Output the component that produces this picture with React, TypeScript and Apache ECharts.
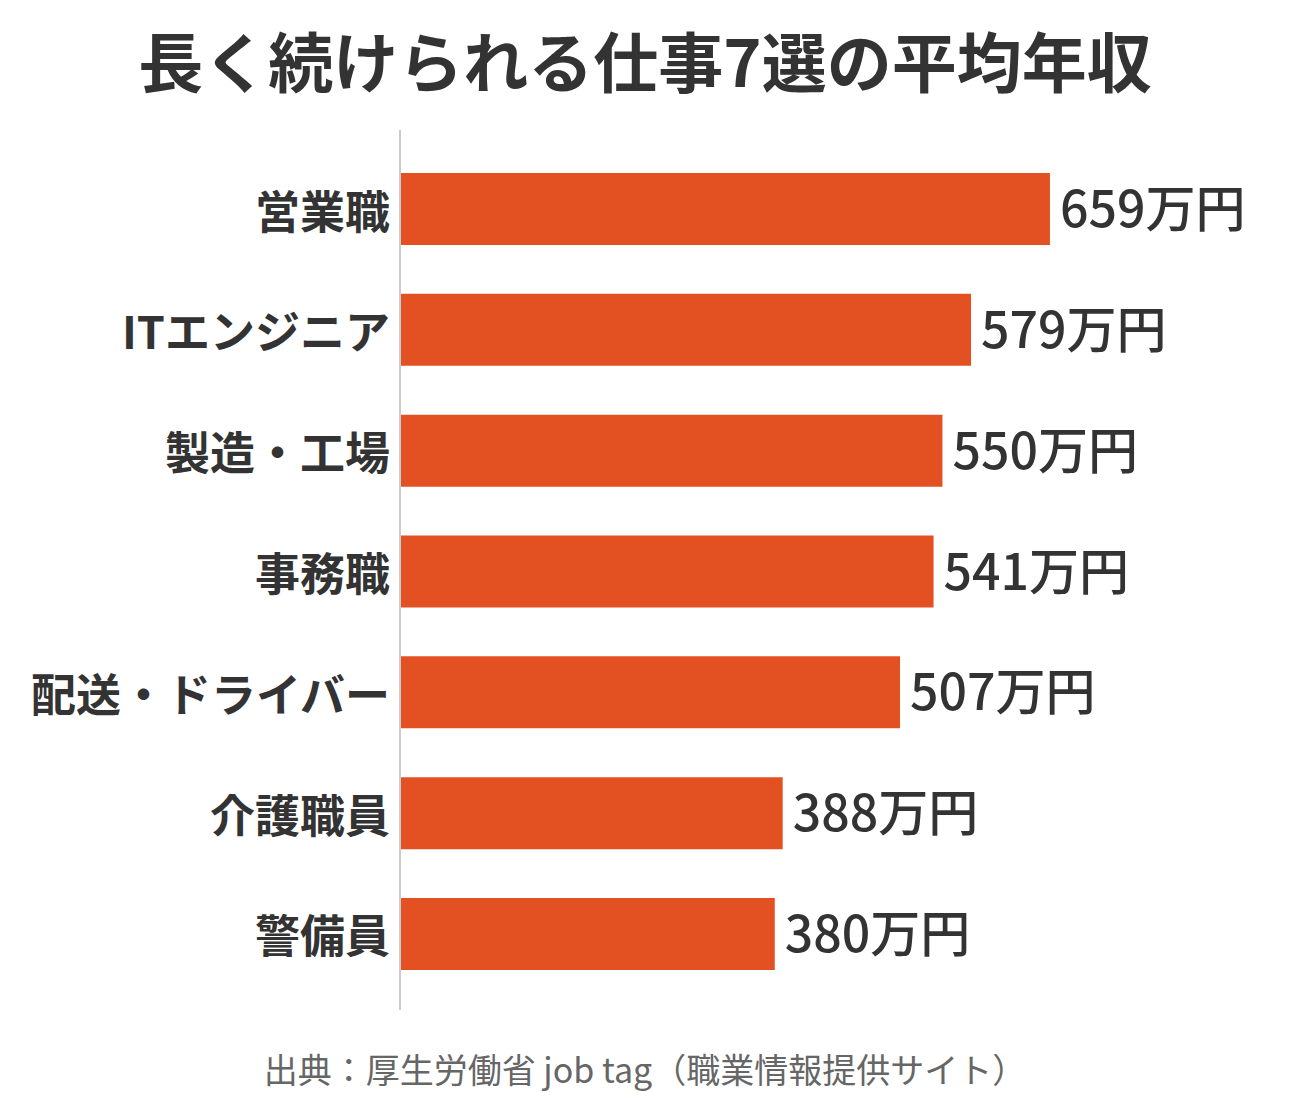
import { useEffect, useRef } from "react";
import * as echarts from "echarts";

const jobs = ["営業職", "ITエンジニア", "製造・工場", "事務職", "配送・ドライバー", "介護職員", "警備員"];
const salaries = [659, 579, 550, 541, 507, 388, 380];

const TITLE = "長く続けられる仕事7選の平均年収";
const SOURCE = "出典：厚生労働省 job tag（職業情報提供サイト）";
const FONT = '"Noto Sans CJK JP", "Noto Sans", sans-serif';

export default function App() {
  const ref = useRef<HTMLDivElement>(null);

  useEffect(() => {
    if (!ref.current) return;
    const chart = echarts.init(ref.current, null, { renderer: "svg" });

    chart.setOption({
      animation: false,
      backgroundColor: "#ffffff",
      textStyle: { fontFamily: FONT },
      title: [
        {
          text: TITLE,
          left: "center",
          top: 21,
          textStyle: { fontSize: 65, fontWeight: "bold", color: "#333333", fontFamily: FONT },
        },
        {
          text: SOURCE,
          left: "center",
          top: 1046,
          textStyle: { fontSize: 34, fontWeight: "normal", color: "#666666", fontFamily: FONT },
        },
      ],
      grid: { left: 400, right: 101, top: 148.6, bottom: 115.6 },
      xAxis: {
        type: "value",
        min: 0,
        max: 800,
        show: false,
      },
      yAxis: {
        type: "category",
        data: jobs,
        inverse: true,
        axisLine: { show: false },
        axisTick: { show: false },
        axisLabel: {
          margin: 10,
          fontSize: 45,
          fontWeight: "bold",
          color: "#333333",
          fontFamily: FONT,
        },
      },
      graphic: [
        {
          type: "line",
          shape: { x1: 400, y1: 130, x2: 400, y2: 1010 },
          style: { stroke: "#cccccc", lineWidth: 2 },
          z: 10,
        },
      ],
      series: [
        {
          type: "bar",
          data: salaries,
          barWidth: 72,
          itemStyle: { color: "#e35122" },
          label: {
            show: true,
            position: "right",
            distance: 10,
            offset: [0, -4],
            formatter: "{c}万円",
            fontSize: 50,
            fontWeight: 500,
            color: "#333333",
            fontFamily: FONT,
          },
        },
      ],
    });

    return () => {
      chart.dispose();
    };
  }, []);

  return (
    <div
      ref={ref}
      style={{ position: "absolute", left: 0, top: 0, width: 1290, height: 1110 }}
    />
  );
}
